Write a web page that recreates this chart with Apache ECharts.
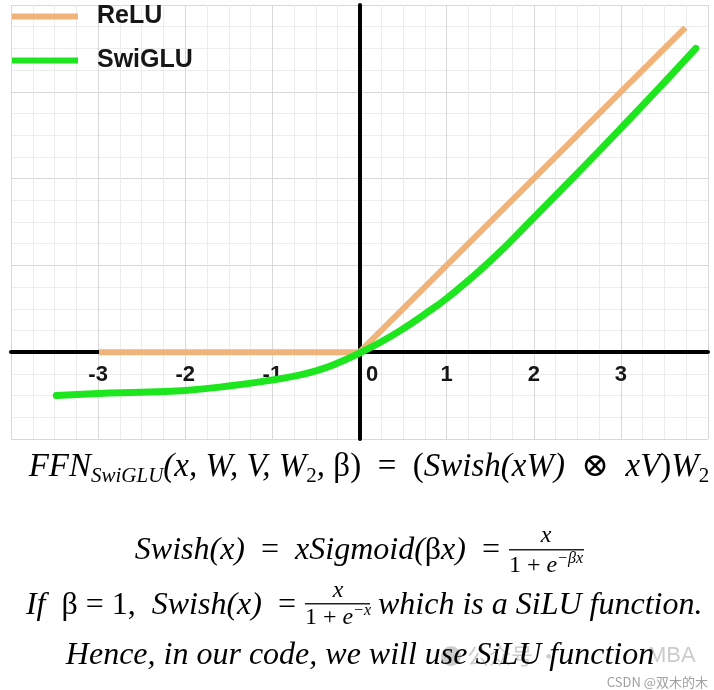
<!DOCTYPE html>
<html><head><meta charset="utf-8">
<script src="https://cdn.jsdelivr.net/npm/echarts@6/dist/echarts.min.js"></script>
<style>html,body{margin:0;padding:0;background:#fff}#c{width:714px;height:690px}</style>
</head><body><div id="c"></div>
<script>
// ---- data ----
const xTickLabels = ['', '-3', '-2', '-1', '0', '1', '2', '3', ''];
const seriesNames = ['ReLU', 'SwiGLU'];
const reluX = [-2.99, 0, 3.74];
const reluY = [0, 0, 3.74];
const swigluX = [-3.48, -3, -2.5, -2, -1.5, -1, -0.75, -0.5, -0.25, 0, 0.25, 0.5, 0.75, 1, 1.5, 2, 2.5, 3, 3.5, 3.86];
const swigluY = [-0.50, -0.475, -0.46, -0.44, -0.39, -0.32, -0.275, -0.215, -0.125, -0.01, 0.12, 0.27, 0.44, 0.62, 1.05, 1.55, 2.06, 2.58, 3.11, 3.5];

const chart = echarts.init(document.getElementById('c'));
const SERIF = '"Liberation Serif", "DejaVu Serif", serif';
const SANS = '"Liberation Sans", Arial, sans-serif';
const base = {fontFamily: SERIF, color: '#161616'};
const it = (sz) => Object.assign({}, base, {fontStyle: 'italic', fontSize: sz});
const up = (sz) => Object.assign({}, base, {fontStyle: 'normal', fontSize: sz});

function txt(x, y, text, rich, align) {
  return {type: 'text', x: x, y: y, z: 10,
    style: {text: text, rich: rich, align: align || 'center', verticalAlign: 'middle',
            textAlign: align || 'center', textVerticalAlign: 'middle'}};
}
function bar(x1, x2, y) {
  return {type: 'rect', z: 10, shape: {x: x1, y: y, width: x2 - x1, height: 1.4}, style: {fill: '#222'}};
}
function richMain(sz) {
  return {
    i: Object.assign(it(sz), {lineHeight: 40}),
    n: Object.assign(up(sz), {lineHeight: 40}),
    s: Object.assign(it(Math.round(sz * 0.64)), {lineHeight: 22, verticalAlign: 'bottom'}),
    sn: Object.assign(up(Math.round(sz * 0.64)), {lineHeight: 22, verticalAlign: 'bottom'})
  };
}
const richFrac = {
  i: Object.assign(it(24), {lineHeight: 30}),
  n: Object.assign(up(24), {lineHeight: 30}),
  p: Object.assign(it(16), {lineHeight: 18, verticalAlign: 'top'})
};

const GRID = {left: 11, right: 6, top: 5, bottom: 251};
const gridH = 690 - GRID.top - GRID.bottom;
const yMin = -1, yMax = 4;

const option = {
  animation: false,
  backgroundColor: '#fff',
  grid: Object.assign({containLabel: false}, GRID),
  legend: {
    data: seriesNames, orient: 'vertical', left: 12, top: 4, itemGap: 19, padding: 0,
    icon: 'rect', itemWidth: 66, itemHeight: 6,
    textStyle: {fontFamily: SANS, fontWeight: 'bold', fontSize: 25, color: '#161616', padding: [0, 0, 0, 14]}
  },
  xAxis: {
    type: 'value', min: -4, max: 4, interval: 1, position: 'bottom',
    offset: -gridH * (0 - yMin) / (yMax - yMin),
    axisLine: {onZero: false, lineStyle: {color: '#000', width: 4}},
    axisTick: {show: false},
    axisLabel: {
      margin: 12, fontFamily: SANS, fontWeight: 'bold', fontSize: 22, color: '#161616',
      formatter: function (v) { const s = xTickLabels[Math.round(v) + 4]; return s === '0' ? '{z|0}' : s; },
      rich: {z: {fontFamily: SANS, fontWeight: 'bold', fontSize: 22, color: '#161616', padding: [0, 0, 0, 25]}}
    },
    splitLine: {show: true, lineStyle: {color: '#d8d8d8', width: 1}},
    minorTick: {show: false, splitNumber: 4},
    minorSplitLine: {show: true, lineStyle: {color: '#ececec', width: 1}}
  },
  yAxis: {
    type: 'value', min: yMin, max: yMax, interval: 1,
    axisLine: {onZero: true, lineStyle: {color: '#000', width: 4}},
    axisTick: {show: false},
    axisLabel: {show: false},
    splitLine: {show: true, lineStyle: {color: '#d8d8d8', width: 1}},
    minorTick: {show: false, splitNumber: 4},
    minorSplitLine: {show: true, lineStyle: {color: '#ececec', width: 1}}
  },
  series: [
    {name: seriesNames[0], type: 'line', showSymbol: false, symbol: 'none',
     data: reluX.map((x, i) => [x, reluY[i]]),
     lineStyle: {color: '#F0B47A', width: 6}, itemStyle: {color: '#F0B47A'}},
    {name: seriesNames[1], type: 'line', showSymbol: false, symbol: 'none', smooth: true,
     data: swigluX.map((x, i) => [x, swigluY[i]]),
     lineStyle: {color: '#1EE61E', width: 7, cap: 'round'}, itemStyle: {color: '#1EE61E'}}
  ],
  graphic: [
    // watermark
    {type: 'text', x: 440, y: 656, z: 5, style: {text: '● 公众号 ·', fill: '#cccccc', font: '22px "Noto Sans CJK SC", sans-serif', align: 'left', verticalAlign: 'middle', textAlign: 'left', textVerticalAlign: 'middle'}},
    {type: 'text', x: 648, y: 656, z: 5, style: {text: 'MBA', fill: '#cccccc', font: '22px "Liberation Sans", sans-serif', align: 'left', verticalAlign: 'middle', textAlign: 'left', textVerticalAlign: 'middle'}},
    {type: 'text', x: 708, y: 682, z: 5, style: {text: 'CSDN @双木的木', fill: '#a0a0a0', font: '13px "Noto Sans CJK SC", sans-serif', align: 'right', verticalAlign: 'middle', textAlign: 'right', textVerticalAlign: 'middle'}},
    // line 1
    txt(369, 467, '{i|FFN}{s|SwiGLU}{i|(x, W, V, W}{sn|2}{i|, }{n|β)  =  (}{i|Swish(xW)}{n|  ⊗  }{i|xV}{n|)}{i|W}{sn|2}', richMain(33)),
    // line 2
    txt(500, 551, '{i|Swish(x)}{n|  =  }{i|xSigmoid(}{n|β}{i|x)}{n|  =}', richMain(32), 'right'),
    txt(546, 536, '{i|x}', richFrac),
    bar(509, 584, 549),
    txt(546, 566, '{n|1 + }{i|e}{p|−βx}', richFrac),
    // line 3
    txt(296, 606, '{i|If  }{n|β = 1,  }{i|Swish(x)}{n|  =}', richMain(32), 'right'),
    txt(338, 591, '{i|x}', richFrac),
    bar(305, 370, 603),
    txt(338, 618, '{n|1 + }{i|e}{p|−x}', richFrac),
    txt(378, 606, '{i|which is a SiLU function.}', richMain(32), 'left'),
    // line 4
    txt(360, 656, '{i|Hence, in our code, we will use SiLU function}', richMain(32))
  ]
};
chart.setOption(option);
</script></body></html>
